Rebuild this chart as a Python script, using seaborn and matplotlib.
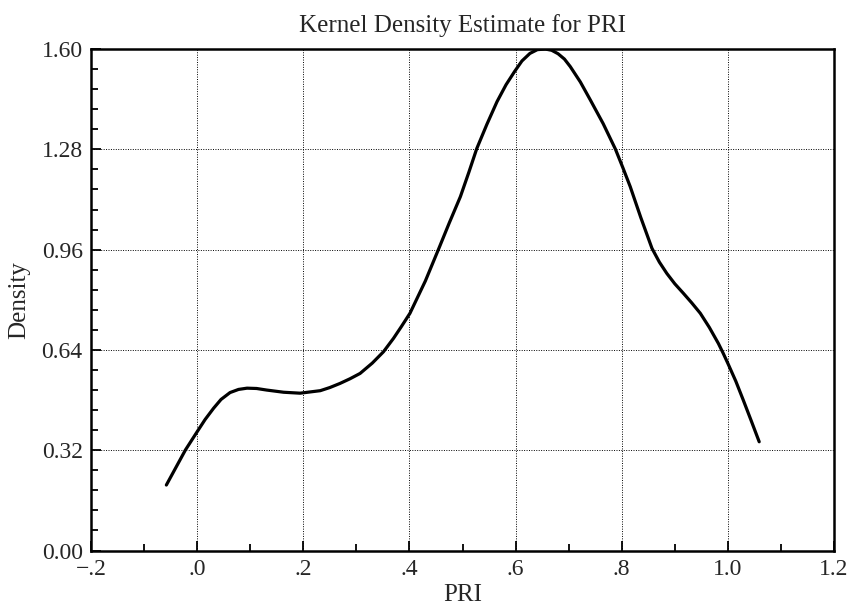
import numpy as np
import pandas as pd
import matplotlib
matplotlib.use("Agg")
import matplotlib.pyplot as plt
import seaborn as sns
from matplotlib.ticker import MultipleLocator, FuncFormatter

# values
pri = [-0.058, -0.040, -0.022, 0.0, 0.015, 0.031, 0.045, 0.062, 0.078, 0.094,
       0.112, 0.131, 0.163, 0.194, 0.232, 0.250, 0.269, 0.288, 0.307, 0.330,
       0.351, 0.370, 0.385, 0.401, 0.430, 0.455, 0.475, 0.496, 0.512, 0.527,
       0.546, 0.565, 0.582, 0.598, 0.612, 0.627, 0.641, 0.656, 0.668, 0.680,
       0.692, 0.703, 0.722, 0.741, 0.765, 0.788, 0.802, 0.816, 0.836, 0.857,
       0.871, 0.885, 0.900, 0.916, 0.932, 0.948, 0.965, 0.982, 0.991, 1.000,
       1.015, 1.029, 1.044, 1.059]
density = [0.209, 0.265, 0.321, 0.379, 0.418, 0.454, 0.482, 0.504, 0.514, 0.518,
           0.517, 0.512, 0.505, 0.502, 0.510, 0.520, 0.533, 0.548, 0.565, 0.598,
           0.634, 0.677, 0.715, 0.757, 0.860, 0.962, 1.045, 1.129, 1.207, 1.283,
           1.360, 1.432, 1.486, 1.528, 1.562, 1.586, 1.598, 1.600, 1.596, 1.585,
           1.568, 1.544, 1.495, 1.437, 1.362, 1.281, 1.222, 1.161, 1.062, 0.964,
           0.920, 0.884, 0.851, 0.821, 0.790, 0.757, 0.712, 0.661, 0.630, 0.597,
           0.540, 0.480, 0.414, 0.347]

x_ticks = [-0.2, 0.0, 0.2, 0.4, 0.6, 0.8, 1.0, 1.2]
x_labels = ["\u2212.2", ".0", ".2", ".4", ".6", ".8", "1.0", "1.2"]
y_ticks = [0.00, 0.32, 0.64, 0.96, 1.28, 1.60]

df = pd.DataFrame({"PRI": pri, "Density": density})

sns.set_style("ticks")
plt.rcParams["font.family"] = ["Liberation Serif", "DejaVu Serif"]

fig = plt.figure(figsize=(8.6, 6.09), dpi=100)
ax = fig.add_axes([0.1058, 0.096, 0.864, 0.8235])

sns.lineplot(data=df, x="PRI", y="Density", color="black", linewidth=2.3, ax=ax)

ax.set_xlim(-0.2, 1.2)
ax.set_ylim(0, 1.6)
ax.set_xticks(x_ticks)
ax.set_xticklabels(x_labels)
ax.set_yticks(y_ticks)
ax.yaxis.set_major_formatter(FuncFormatter(lambda v, p: f"{v:.2f}"))
ax.xaxis.set_minor_locator(MultipleLocator(0.1))
ax.yaxis.set_minor_locator(MultipleLocator(0.064))

ax.tick_params(which="both", direction="in", top=False, right=False, labelsize=17,
               color="black", width=1.3)
ax.tick_params(which="major", length=7, pad=6)
ax.tick_params(which="minor", length=5)

ax.grid(True, which="major", linestyle=(0, (1, 1.5)), color="black", linewidth=0.7)

for s in ax.spines.values():
    s.set_linewidth(1.8)
    s.set_color("black")

ax.set_title("Kernel Density Estimate for PRI", fontsize=18, pad=12)
ax.set_xlabel("PRI", fontsize=18, labelpad=3)
ax.set_ylabel("Density", fontsize=18, labelpad=8)

fig.savefig("out.png", dpi=100)
